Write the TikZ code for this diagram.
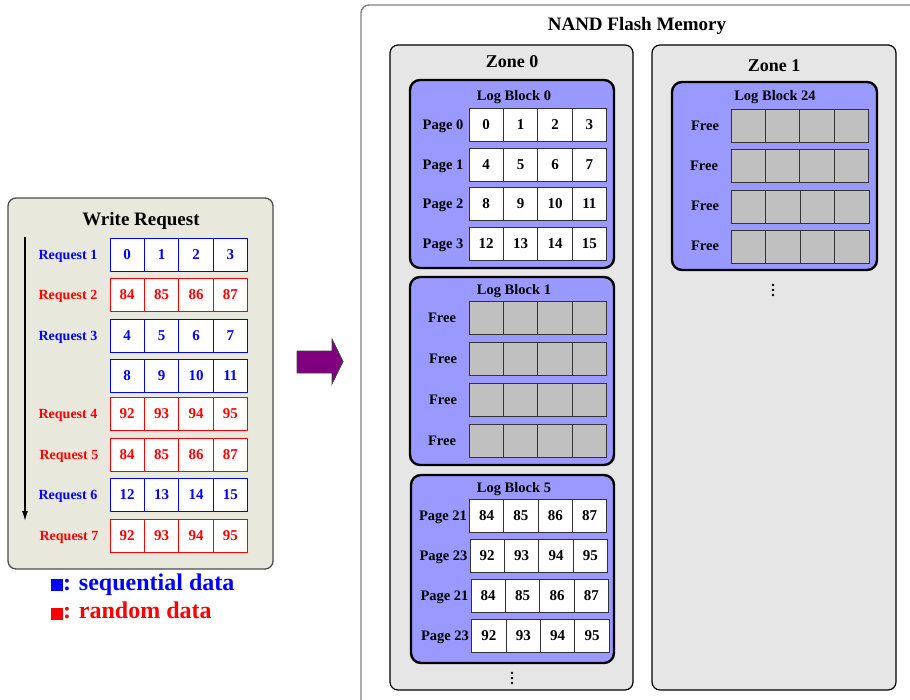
\documentclass[tikz,border=0pt]{standalone}
\usepackage{fontspec}
\setmainfont{Liberation Serif}
\usetikzlibrary{arrows.meta}

\definecolor{panelbg}{RGB}{232,232,220}
\definecolor{zonebg}{RGB}{230,230,230}
\definecolor{blockbg}{RGB}{153,153,255}
\definecolor{freegray}{RGB}{192,192,192}
\definecolor{seqblue}{RGB}{0,0,255}
\definecolor{randred}{RGB}{255,0,0}
\definecolor{arrowpurple}{RGB}{128,0,128}

% a row of four page cells: name, left x, centre y, style, four values
\newcommand{\cellrow}[8]{%
  \node[#4] (#1-1) at (#2+17.2,#3) {#5};
  \node[#4] (#1-2) at (#2+51.6,#3) {#6};
  \node[#4] (#1-3) at (#2+86.0,#3) {#7};
  \node[#4] (#1-4) at (#2+120.4,#3) {#8};
}

\tikzset{
  every node/.style={inner sep=0pt, outer sep=0pt},
  % text boxes sized to the cap height, so labels centre on their capitals
  capbox/.style={text height=#1, text depth=0pt},
  panel/.style={draw=black!70, line width=1.3pt, fill=panelbg, rounded corners=8pt, anchor=north west},
  nandbox/.style={draw=black!50, line width=1.4pt, fill=white, rounded corners=8pt, anchor=north west},
  zonebox/.style={draw=black, line width=1.2pt, fill=zonebg, rounded corners=8pt, anchor=north west},
  logblock/.style={draw=black, line width=2.4pt, fill=blockbg, rounded corners=10pt, anchor=north west},
  cellbase/.style={draw, minimum width=34.4pt, minimum height=33pt, capbox=9.9pt,
    font=\fontsize{15}{15}\selectfont\bfseries},
  seqcell/.style={cellbase, draw=seqblue, text=seqblue, fill=white, line width=0.9pt},
  randcell/.style={cellbase, draw=randred, text=randred, fill=white, line width=0.9pt},
  datacell/.style={cellbase, draw=black!80, fill=white, line width=0.9pt},
  freecell/.style={cellbase, draw=black!80, fill=freegray, line width=0.9pt},
  reqlabel/.style={capbox=9.3pt, font=\fontsize{14}{14}\selectfont\bfseries},
  pglabel/.style={capbox=9.6pt, font=\fontsize{14.5}{14.5}\selectfont\bfseries},
  blocktitle/.style={capbox=9.6pt, font=\fontsize{14.5}{14.5}\selectfont\bfseries},
  zonetitle/.style={capbox=12pt, font=\fontsize{18}{18}\selectfont\bfseries},
  bigtitle/.style={capbox=12.6pt, font=\fontsize{19}{19}\selectfont\bfseries},
  legendtext/.style={anchor=base west, font=\fontsize{24}{24}\selectfont\bfseries},
}

\begin{document}
\begin{tikzpicture}[x=1pt, y=-1pt]
\useasboundingbox (0,0) rectangle (910,699);

% ---------------- write request panel ----------------
\node[panel, minimum width=265pt, minimum height=371pt] (wr) at (8,198) {};
\node[bigtitle] (wrtitle) at (141,219) {Write Request};

\coordinate (timeA) at (25,237);
\coordinate (timeB) at (25,521);
\draw[line width=1.3pt, -{Latex[length=10pt,width=6pt]}] (timeA) -- (timeB);

\node[reqlabel, text=seqblue] (ql1) at (68,255) {Request 1};
\node[reqlabel, text=randred] (ql2) at (68,295) {Request 2};
\node[reqlabel, text=seqblue] (ql3) at (68,336) {Request 3};
\node[reqlabel, text=randred] (ql4) at (68,414) {Request 4};
\node[reqlabel, text=randred] (ql5) at (69,455) {Request 5};
\node[reqlabel, text=seqblue] (ql6) at (68,495) {Request 6};
\node[reqlabel, text=randred] (ql7) at (69,536) {Request 7};

\cellrow{q1}{110}{254.5}{seqcell}{0}{1}{2}{3}
\cellrow{q2}{110}{294.5}{randcell}{84}{85}{86}{87}
\cellrow{q3}{110}{335.5}{seqcell}{4}{5}{6}{7}
\cellrow{q4}{110}{375.5}{seqcell}{8}{9}{10}{11}
\cellrow{q5}{110}{413.5}{randcell}{92}{93}{94}{95}
\cellrow{q6}{110}{454.5}{randcell}{84}{85}{86}{87}
\cellrow{q7}{110}{494.5}{seqcell}{12}{13}{14}{15}
\cellrow{q8}{110}{535.5}{randcell}{92}{93}{94}{95}

% legend
\fill[seqblue] (51,579) rectangle (63,591);
\node[legendtext, text=seqblue] (legseq) at (63,590) {: sequential data};
\fill[randred] (51,608) rectangle (63,619.5);
\node[legendtext, text=randred] (legrand) at (63,618.5) {: random data};

% ---------------- transfer arrow ----------------
\draw[fill=arrowpurple, draw=black!75, line width=0.8pt]
  (297,351) -- (332,351) -- (332,339) -- (343,361.5) -- (332,384) -- (332,373) -- (297,373) -- cycle;

% ---------------- NAND flash memory ----------------
\node[nandbox, minimum width=600pt, minimum height=740pt] (nand) at (361,5) {};
\node[bigtitle] (nandtitle) at (637,24) {NAND Flash Memory};

\node[zonebox, minimum width=243pt, minimum height=645pt] (zone0) at (390,45) {};
\node[zonetitle] (zone0title) at (512,61) {Zone 0};
\node[zonebox, minimum width=244pt, minimum height=645pt] (zone1) at (652,45) {};
\node[zonetitle] (zone1title) at (774,65) {Zone 1};

% log block 0
\node[logblock, minimum width=204pt, minimum height=188pt] (lb0) at (410,80) {};
\node[blocktitle] (lb0title) at (514,96) {Log Block 0};
\node[pglabel] (lb0p1) at (443,124.5) {Page 0};
\node[pglabel] (lb0p2) at (443,164.5) {Page 1};
\node[pglabel] (lb0p3) at (443,204) {Page 2};
\node[pglabel] (lb0p4) at (443,243.5) {Page 3};
\cellrow{a1}{469}{124.5}{datacell}{0}{1}{2}{3}
\cellrow{a2}{469}{164.5}{datacell}{4}{5}{6}{7}
\cellrow{a3}{469}{204}{datacell}{8}{9}{10}{11}
\cellrow{a4}{469}{243.5}{datacell}{12}{13}{14}{15}

% log block 1
\node[logblock, minimum width=204pt, minimum height=188pt] (lb1) at (410,277) {};
\node[blocktitle] (lb1title) at (514,290) {Log Block 1};
\node[pglabel] (lb1p1) at (442,317.5) {Free};
\node[pglabel] (lb1p2) at (443,358.5) {Free};
\node[pglabel] (lb1p3) at (443,399.5) {Free};
\node[pglabel] (lb1p4) at (442,440.5) {Free};
\cellrow{b1}{469}{317.5}{freecell}{}{}{}{}
\cellrow{b2}{469}{358.5}{freecell}{}{}{}{}
\cellrow{b3}{469}{399.5}{freecell}{}{}{}{}
\cellrow{b4}{469}{440.5}{freecell}{}{}{}{}

% log block 5
\node[logblock, minimum width=203pt, minimum height=188pt] (lb5) at (411,475) {};
\node[blocktitle] (lb5title) at (514,488) {Log Block 5};
\node[pglabel] (lb5p1) at (443,515.5) {Page 21};
\node[pglabel] (lb5p2) at (443.5,555.5) {Page 23};
\node[pglabel] (lb5p3) at (444.5,595.5) {Page 21};
\node[pglabel] (lb5p4) at (445,635.5) {Page 23};
\cellrow{c1}{469.3}{515.5}{datacell}{84}{85}{86}{87}
\cellrow{c2}{470}{555.5}{datacell}{92}{93}{94}{95}
\cellrow{c3}{471}{595.5}{datacell}{84}{85}{86}{87}
\cellrow{c4}{471.7}{635.5}{datacell}{92}{93}{94}{95}

\foreach \dy in {-5,0,5} \fill (512,678+\dy) circle (1.4pt);

% log block 24
\node[logblock, minimum width=205pt, minimum height=188pt] (lb24) at (672,82) {};
\node[blocktitle] (lb24title) at (775,96) {Log Block 24};
\node[pglabel] (lb24p1) at (705,125.5) {Free};
\node[pglabel] (lb24p2) at (704,165.5) {Free};
\node[pglabel] (lb24p3) at (705,206) {Free};
\node[pglabel] (lb24p4) at (705,246) {Free};
\cellrow{d1}{731}{125.5}{freecell}{}{}{}{}
\cellrow{d2}{731}{165.5}{freecell}{}{}{}{}
\cellrow{d3}{731.5}{206.5}{freecell}{}{}{}{}
\cellrow{d4}{731.5}{246.5}{freecell}{}{}{}{}

\foreach \dy in {-5,0,5} \fill (773,290+\dy) circle (1.4pt);
\end{tikzpicture}
\end{document}
